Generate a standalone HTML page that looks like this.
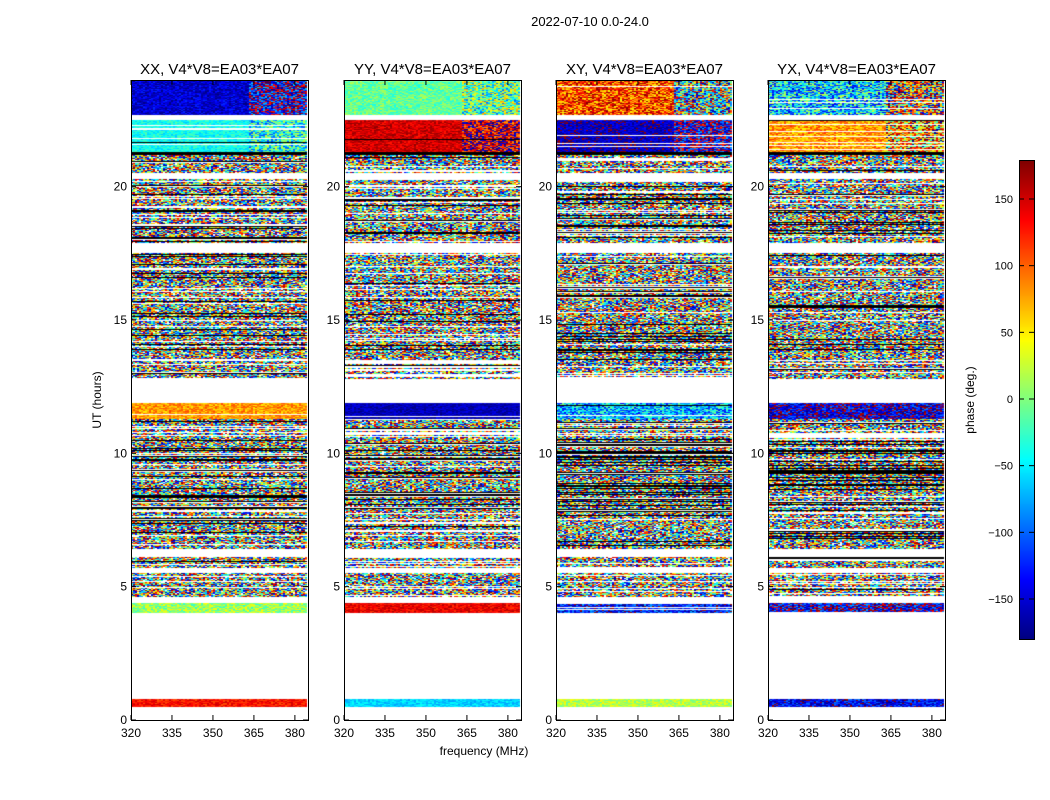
<!DOCTYPE html>
<html><head><meta charset="utf-8"><style>
body{margin:0;background:#fff;width:1050px;height:800px;overflow:hidden;font-family:"Liberation Sans",sans-serif}
#wrap{position:relative;width:1050px;height:800px}
canvas{position:absolute}
svg{position:absolute;left:0;top:0}
</style></head><body>
<div id="wrap">
<svg id="ov" width="1050" height="800"></svg>
</div>
<script>
// ---- data ----
const panelTitles = ["XX, V4*V8=EA03*EA07","YY, V4*V8=EA03*EA07","XY, V4*V8=EA03*EA07","YX, V4*V8=EA03*EA07"];
const xTicks = [320,335,350,365,380];
const yTicks = [0,5,10,15,20];
const cbTicks = [150,100,50,0,-50,-100,-150];
// time bands: [startHour, endHour]
const bandStart = [0,0.5,0.8,4.0,4.4,4.6,5.5,5.7,6.1,6.4,8.0,10.5,10.9,11.3,11.9,12.8,13.5,17.5,17.9,19.9,20.3,20.5,21.2,21.3,22.5,22.7];
const bandEnd   = [0.5,0.8,4.0,4.4,4.6,5.5,5.7,6.1,6.4,8.0,10.5,10.9,11.3,11.9,12.8,13.5,17.5,17.9,19.9,20.3,20.5,21.2,21.3,22.5,22.7,24];
// band kind: w=white, n=noise, s=smooth, k=black
const bandKind  = ["w","s","w","s","w","n","w","n","w","n","n","n","n","s","w","n","n","w","n","n","w","n","k","s","w","s"];
// mean phase per panel for smooth bands (XX, YY, XY, YX)
const meanXX = [0,130,0,10,0,0,0,0,0,0,0,0,0,80,0,0,0,0,0,0,0,-110,0,-40,0,-150];
const meanYY = [0,-60,0,140,0,0,0,0,0,0,0,0,0,-160,0,0,0,0,0,0,0,60,0,150,0,-10];
const meanXY = [0,20,0,-130,0,0,0,0,0,0,0,0,0,-70,0,0,0,0,0,0,0,-120,0,-160,0,110];
const meanYX = [0,-140,0,-150,0,0,0,0,0,0,0,0,0,-150,0,0,0,0,0,0,0,70,0,80,0,-60];
const spreadXX = [0,25,0,40,0,0,0,0,0,0,0,0,0,30,0,0,0,0,0,0,0,90,0,25,0,30];
const spreadYY = [0,20,0,25,0,0,0,0,0,0,0,0,0,20,0,0,0,0,0,0,0,90,0,25,0,30];
const spreadXY = [0,30,0,60,0,0,0,0,0,0,0,0,0,70,0,0,0,0,0,0,0,80,0,30,0,70];
const spreadYX = [0,50,0,80,0,0,0,0,0,0,0,0,0,60,0,0,0,0,0,0,0,80,0,40,0,90];
// black-line density and white-row density in noisy bands
const blackDens = [0,0,0,0,0,0.04,0,0.04,0,0.1,0.25,0.08,0.2,0.04,0,0.04,0.1,0,0.12,0.08,0,0.04,1,0.02,0,0.02];
const whiteDens = [1,0,1,0.1,1,0.1,1,0.15,1,0.12,0.08,0.4,0.1,0.1,1,0.35,0.08,0.8,0.12,0.2,1,0.05,0,0.08,0.7,0.05];
// ---- layout ----
const panelLeft=[131,344,556,768], PT=80, PW=177, PH=640;
const fMin=320,fMax=384.8, tMin=0,tMax=24;
const xs=(p,f)=>panelLeft[p]+(f-fMin)/(fMax-fMin)*PW;
const ys=h=>PT+PH-(h-tMin)/(tMax-tMin)*PH;
const cbY=v=>639-(v+180)/360*480;
function jet(v){
  const r=Math.min(Math.max(Math.min(4*v-1.5,-4*v+4.5),0),1);
  const g=Math.min(Math.max(Math.min(4*v-0.5,-4*v+3.5),0),1);
  const b=Math.min(Math.max(Math.min(4*v+0.5,-4*v+2.5),0),1);
  return [r*255|0,g*255|0,b*255|0];
}
function hash(a,b,c){let x=(a*374761393+b*668265263+c*2147483647)|0;x=(x^(x>>>13))*1274126177|0;x=x^(x>>>16);return ((x>>>0)%100000)/100000;}
const means=[meanXX,meanYY,meanXY,meanYX], spreads=[spreadXX,spreadYY,spreadXY,spreadYX];
const wrap=document.getElementById('wrap');
const NC=88, NR=640;
for(let p=0;p<4;p++){
  const cv=document.createElement('canvas');
  cv.width=PW;cv.height=PH;cv.style.left=panelLeft[p]+'px';cv.style.top=PT+'px';
  
  
  wrap.insertBefore(cv,wrap.firstChild.nextSibling);
  const ctx=cv.getContext('2d');const img=ctx.createImageData(PW,PH);
  const rh=PH/NR;
  for(let r=0;r<NR;r++){
    const h=tMax-(r+0.5)*(tMax-tMin)/NR;
    let b=0;for(let i=0;i<bandStart.length;i++){if(h>=bandStart[i]&&h<bandEnd[i]){b=i;break;}}
    const k=bandKind[b];
    const rw=hash(r,p,7), rb=hash(r,p,11);
    let rowMode=k;
    if(k==='w'||rw<whiteDens[b]) rowMode='w';
    else if(k==='k'||rb<blackDens[b]) rowMode='k';
    for(let c=0;c<NC;c++){
      let col;
      if(rowMode==='w') col=[255,255,255];
      else if(rowMode==='k') col=[0,0,0];
      else if(rowMode==='s'){
        let sp=spreads[p][b]; if(c>58&&b>=23) sp*=3;
        let v=means[p][b]+(hash(r,c,p+3)-0.5)*2*sp;
        v=((v+180)%360+360)%360-180;
        col=jet((v+180)/360);
      } else {
        if(hash(r,c,p+50)<0.08) col=[255,255,255];
        else col=jet(hash(r,c,p+20));
      }
      for(let dy=0;dy<rh;dy++)for(let dx=0;dx<2;dx++){
        const X=c*2+dx,Y=r*rh+dy; if(X>=PW)continue;
        const o=(Y*PW+X)*4;img.data[o]=col[0];img.data[o+1]=col[1];img.data[o+2]=col[2];img.data[o+3]=255;
      }
    }
  }
  ctx.putImageData(img,0,0);
}
// colorbar
const cb=document.createElement('canvas');cb.width=15;cb.height=480;cb.style.left='1019px';cb.style.top='160px';


wrap.insertBefore(cb,wrap.firstChild.nextSibling);
{const c=cb.getContext('2d');for(let y=0;y<480;y++){const q=jet(1-y/479);c.fillStyle=`rgb(${q})`;c.fillRect(0,y,15,1);}}
// overlay
const svg=document.getElementById('ov');const NS='http://www.w3.org/2000/svg';
function el(t,a,txt){const e=document.createElementNS(NS,t);for(const k in a)e.setAttribute(k,a[k]);if(txt!==undefined)e.textContent=txt;svg.appendChild(e);return e;}
let e=el('text',{x:590,y:26,'text-anchor':'middle','font-size':13},'2022-07-10 0.0-24.0');

for(let p=0;p<4;p++){
  const L=panelLeft[p];
  e=el('rect',{x:L+0.5,y:PT+0.5,width:PW,height:PH,fill:'none',stroke:'#000'});
  
  e=el('text',{x:L+PW/2,y:74,'text-anchor':'middle','font-size':15},panelTitles[p]);
  
  xTicks.forEach(f=>{const x=xs(p,f);
    el('line',{x1:x,x2:x,y1:PT+PH,y2:PT+PH-5,stroke:'#000'});
    el('line',{x1:x,x2:x,y1:PT,y2:PT+5,stroke:'#000'});
    e=el('text',{x:x,y:737,'text-anchor':'middle','font-size':12},String(f));
    
  });
  yTicks.forEach(t=>{const y=ys(t);
    el('line',{x1:L,x2:L+5,y1:y,y2:y,stroke:'#000'});
    el('line',{x1:L+PW,x2:L+PW-5,y1:y,y2:y,stroke:'#000'});
    e=el('text',{x:L-4,y:y+4,'text-anchor':'end','font-size':12},String(t));
    
  });
}
e=el('text',{x:484,y:755,'text-anchor':'middle','font-size':12},'frequency (MHz)');

e=el('text',{x:101,y:400,'text-anchor':'middle','font-size':12,transform:'rotate(-90 101 400)'},'UT (hours)');

el('rect',{x:1019.5,y:160.5,width:15,height:479,fill:'none',stroke:'#000'});
cbTicks.forEach(v=>{const y=cbY(v);
  el('line',{x1:1019,x2:1024,y1:y,y2:y,stroke:'#000'});
  el('line',{x1:1034,x2:1029,y1:y,y2:y,stroke:'#000'});
  e=el('text',{x:1013,y:y+4,'text-anchor':'end','font-size':11},String(v).replace('-','\u2212'));
  
});
e=el('text',{x:974,y:400,'text-anchor':'middle','font-size':12,transform:'rotate(-90 974 400)'},'phase (deg.)');

</script>
</body></html>
